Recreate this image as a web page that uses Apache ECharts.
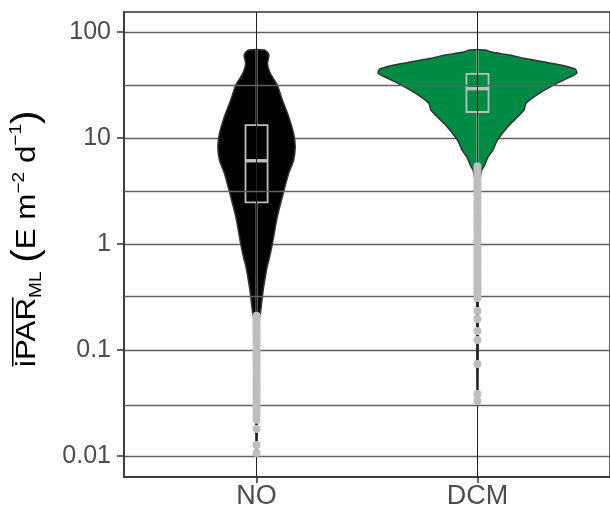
<!DOCTYPE html>
<html><head><meta charset="utf-8">
<script src="https://cdn.jsdelivr.net/npm/echarts@6/dist/echarts.min.js"></script>
<style>html,body{margin:0;padding:0;background:#fff}#c{width:610px;height:510px}</style>
</head><body><div id="c"></div>
<script>
// ---------- data ----------
const CATEGORIES = ['NO', 'DCM'];
const Y_TICKS = [0.01, 0.1, 1, 10, 100];
const Y_MINOR_BREAKS = [0.0316, 0.316, 3.16, 31.6];

// violin outlines: value (top -> bottom) and full width in category units
const NO_VIOLIN_VALUES = [67.6, 63.4, 59.7, 50.1, 42.3, 36.9, 31.6, 22.9, 15.9, 11.0, 8.30, 6.20, 4.64, 3.16, 1.81, 1.0, 0.707, 0.634, 0.41, 0.31, 0.228, 0.19, 0.15, 0.08, 0.03, 0.0106];
const NO_VIOLIN_WIDTHS = [0.072, 0.103, 0.112, 0.099, 0.117, 0.148, 0.188, 0.233, 0.291, 0.336, 0.350, 0.336, 0.291, 0.247, 0.188, 0.143, 0.112, 0.099, 0.067, 0.051, 0.036, 0.022, 0.013, 0.009, 0.007, 0.004];
const DCM_VIOLIN_VALUES = [67.6, 64.8, 60.7, 56.5, 50.1, 45.0, 40.8, 37.8, 32.8, 26.4, 21.2, 18.4, 12.8, 9.5, 7.70, 6.70, 5.36, 5.0, 4.02, 2.6, 0.88, 0.154, 0.033];
const DCM_VIOLIN_WIDTHS = [0.070, 0.126, 0.287, 0.422, 0.700, 0.880, 0.900, 0.843, 0.720, 0.559, 0.439, 0.422, 0.275, 0.179, 0.140, 0.099, 0.058, 0.040, 0.024, 0.013, 0.009, 0.007, 0.004];

// boxplot stats: lower whisker, Q1, median, Q3, upper whisker
const NO_BOX = [0.215, 2.47, 6.1, 13.2, 67.6];
const DCM_BOX = [5.5, 17.6, 29.2, 40.2, 67.6];

// outliers
const NO_OUTLIERS = [0.21, 0.2, 0.19, 0.18, 0.17, 0.16, 0.15, 0.14, 0.13, 0.12, 0.115, 0.11, 0.1, 0.095, 0.09, 0.085, 0.08, 0.075, 0.07, 0.065, 0.06, 0.056, 0.052, 0.048, 0.045, 0.042, 0.039, 0.036, 0.034, 0.032, 0.03, 0.028, 0.026, 0.024, 0.022, 0.018, 0.0127, 0.0107];
const DCM_OUTLIERS = [5.4, 5.1, 4.8, 4.5, 4.2, 3.9, 3.7, 3.5, 3.3, 3.1, 2.9, 2.7, 2.5, 2.35, 2.2, 2.05, 1.9, 1.8, 1.7, 1.6, 1.5, 1.4, 1.3, 1.2, 1.12, 1.05, 0.93, 0.87, 0.82, 0.77, 0.72, 0.68, 0.64, 0.6, 0.56, 0.53, 0.5, 0.47, 0.44, 0.41, 0.39, 0.37, 0.35, 0.33, 0.31, 0.233, 0.196, 0.151, 0.124, 0.0738, 0.0385, 0.033];

// ---------- styles ----------
const FILLS = ['#000000', '#008B45'];
const BOX_WIDTH = 0.1;
const GREY = '#BEBEBE';
const GRID_COLOR = '#606060';
const FONT = '"Liberation Sans", Arial, Helvetica, sans-serif';

const VIOLINS = [[NO_VIOLIN_VALUES, NO_VIOLIN_WIDTHS], [DCM_VIOLIN_VALUES, DCM_VIOLIN_WIDTHS]];
const BOXES = [NO_BOX, DCM_BOX];

function violinRender(params, api) {
  const x = api.value(0);
  const i = x - 1;
  const vals = VIOLINS[i][0], wids = VIOLINS[i][1];
  const right = vals.map((v, k) => api.coord([x + wids[k] / 2, v]));
  const left = vals.map((v, k) => api.coord([x - wids[k] / 2, v])).reverse();
  return {
    type: 'polygon',
    shape: { points: right.concat(left), smooth: 0.25 },
    style: { fill: FILLS[i], stroke: '#333333', lineWidth: 1.5 }
  };
}

function boxRender(params, api) {
  const x = api.value(0);
  const b = BOXES[x - 1];
  const hw = BOX_WIDTH / 2;
  const c = v => api.coord([x, v]);
  const tl = api.coord([x - hw, b[3]]);
  const br = api.coord([x + hw, b[1]]);
  const ml = api.coord([x - hw, b[2]]);
  const mr = api.coord([x + hw, b[2]]);
  const ls = { stroke: GREY, lineWidth: 1.8, fill: null };
  return {
    type: 'group',
    children: [
      { type: 'line', shape: { x1: c(b[4])[0], y1: c(b[4])[1], x2: c(b[3])[0], y2: c(b[3])[1] }, style: ls },
      { type: 'line', shape: { x1: c(b[1])[0], y1: c(b[1])[1], x2: c(b[0])[0], y2: c(b[0])[1] }, style: ls },
      { type: 'rect', shape: { x: tl[0], y: tl[1], width: br[0] - tl[0], height: br[1] - tl[1] }, style: { stroke: GREY, lineWidth: 1.8, fill: 'none' } },
      { type: 'line', shape: { x1: ml[0], y1: ml[1], x2: mr[0], y2: mr[1] }, style: { stroke: GREY, lineWidth: 3.4 } }
    ]
  };
}

// ---------- y-axis title (rotated, with overline / sub / superscripts) ----------
const MAIN = 28, SUB = 17, SUP = 17, PAREN = 36;
const TITLE_STRETCH = 1.12;
const TITLE_PIECES = [
  { t: 'iPAR', s: MAIN, dy: 0, over: true },
  { t: 'ML', s: SUB, dy: 5 },
  { t: ' ', s: MAIN, dy: 0 },
  { t: '(', s: PAREN, dy: 3 },
  { t: 'E m', s: MAIN, dy: 0 },
  { t: '\u22122', s: SUP, dy: -12 },
  { t: ' d', s: MAIN, dy: 0 },
  { t: '\u22121', s: SUP, dy: -15 },
  { t: ')', s: PAREN, dy: 3 }
];
const mctx = document.createElement('canvas').getContext('2d');
function textW(t, s) { mctx.font = s + 'px ' + FONT; return mctx.measureText(t).width; }
const titleChildren = [];
let cx = 0;
TITLE_PIECES.forEach(p => {
  const w = textW(p.t, p.s);
  titleChildren.push({
    type: 'text', x: cx, y: p.dy - 0.346 * p.s,
    style: { text: p.t, fontSize: p.s, fontFamily: FONT, fill: '#000', align: 'left', verticalAlign: 'middle', textAlign: 'left', textVerticalAlign: 'middle' }
  });
  if (p.over) {
    titleChildren.push({ type: 'rect', shape: { x: 0.5, y: -(0.716 * p.s + 5), width: w, height: 1.6 }, style: { fill: '#000' } });
  }
  cx += w;
});

const chart = echarts.init(document.getElementById('c'), null, { renderer: 'canvas' });
chart.setOption({
  animation: false,
  backgroundColor: '#ffffff',
  grid: { left: 124, top: 12, width: 491, height: 465, show: true, borderColor: '#333333', borderWidth: 1.5, backgroundColor: 'transparent' },
  xAxis: {
    type: 'value', min: 0.4, max: 2.6,
    axisLine: { show: true, lineStyle: { color: '#333333', width: 1.5 } },
    axisTick: { show: true, length: 6, lineStyle: { color: '#333333', width: 1.5 }, customValues: [1, 2] },
    axisLabel: { customValues: [1, 2], formatter: v => CATEGORIES[Math.round(v) - 1] || '', fontSize: 27, fontFamily: FONT, color: '#4D4D4D', margin: 6 },
    splitLine: { show: false }
  },
  yAxis: {
    type: 'log', logBase: 10, min: 0.00634, max: 154.4,
    axisLine: { show: true, lineStyle: { color: '#333333', width: 1.5 } },
    axisTick: { show: true, length: 7, lineStyle: { color: '#333333', width: 1.5 }, customValues: Y_TICKS },
    axisLabel: { customValues: Y_TICKS, formatter: v => String(+(+v).toPrecision(3)), fontSize: 25, fontFamily: FONT, color: '#4D4D4D', margin: 13 },
    splitLine: { show: true, lineStyle: { color: GRID_COLOR, width: 1.3 } },
    minorTick: { show: false },
    minorSplitLine: { show: false }
  },
  graphic: [{ type: 'group', x: 37, y: 367, rotation: Math.PI / 2, scaleX: TITLE_STRETCH, children: titleChildren }],
  series: [
    {
      type: 'scatter', data: [], z: 1, silent: true,
      markLine: { silent: true, symbol: ['none', 'none'], label: { show: false }, animation: false,
        lineStyle: { color: '#222222', width: 1, type: 'solid' },
        data: [{ xAxis: 1 }, { xAxis: 2 }] }
    },
    {
      type: 'scatter', data: [], z: 1, silent: true,
      markLine: { silent: true, symbol: ['none', 'none'], label: { show: false }, animation: false,
        lineStyle: { color: GRID_COLOR, width: 1.3, type: 'solid' },
        data: Y_MINOR_BREAKS.map(v => ({ yAxis: v })) }
    },
    { type: 'custom', z: 3, renderItem: violinRender, data: [[1, 1], [2, 1]], encode: { x: 0, y: 1 }, silent: true },
    { type: 'custom', z: 4, renderItem: boxRender, data: [[1, 1], [2, 1]], encode: { x: 0, y: 1 }, silent: true },
    { type: 'scatter', z: 5, symbol: 'circle', symbolSize: 8, itemStyle: { color: GREY, opacity: 1 }, silent: true,
      data: NO_OUTLIERS.map(v => [1, v]).concat(DCM_OUTLIERS.map(v => [2, v])) }
  ]
});
</script>
</body></html>
